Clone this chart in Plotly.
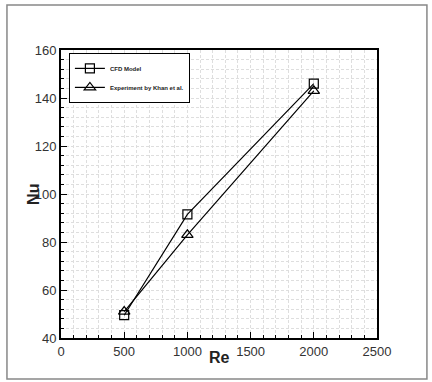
import plotly.graph_objects as go

# data
re_vals = [500, 1000, 2000]
nu_cfd = [49.5, 91.5, 146]
nu_exp = [51, 83, 143]

fig = go.Figure()

fig.add_trace(go.Scatter(
    x=re_vals, y=nu_cfd, name='<b>CFD Model</b>',
    mode='lines+markers',
    line=dict(color='black', width=1.2),
    marker=dict(symbol='square-open', size=9, color='black', line=dict(width=1.2))
))
fig.add_trace(go.Scatter(
    x=re_vals, y=nu_exp, name='<b>Experiment by Khan et al.</b>',
    mode='lines+markers',
    line=dict(color='black', width=1.2),
    marker=dict(symbol='triangle-up-open', size=10, color='black', line=dict(width=1.2))
))

grid = dict(showgrid=True, gridcolor='#dedede', griddash='3px,2px', gridwidth=1)

fig.update_xaxes(
    range=[0, 2500], dtick=500, tick0=0,
    showline=True, linecolor='black', linewidth=2, mirror=True,
    ticks='inside', ticklen=6, tickcolor='black',
    tickfont=dict(size=13, color='#333'),
    minor=dict(dtick=100, ticks='inside', ticklen=3, tickcolor='black', **grid),
    zeroline=False, **grid
)
fig.update_yaxes(
    range=[40, 160], dtick=20, tick0=40,
    showline=True, linecolor='black', linewidth=2, mirror=True,
    ticks='inside', ticklen=6, tickcolor='black',
    tickfont=dict(size=13, color='#333'),
    minor=dict(dtick=4, ticks='inside', ticklen=3, tickcolor='black', **grid),
    zeroline=False, **grid
)

# axis titles placed as annotations to match the original spacing
fig.add_annotation(text='<b>Re</b>', xref='paper', yref='paper', x=0.5, y=-0.069,
                   showarrow=False, font=dict(size=16, color='#222'), yanchor='middle')
fig.add_annotation(text='<b>Nu</b>', xref='paper', yref='paper', x=-0.089, y=0.5,
                   showarrow=False, font=dict(size=16, color='#222'), textangle=-90,
                   xanchor='center')

fig.update_layout(
    width=432, height=382,
    margin=dict(l=61, r=55, t=50, b=44),
    paper_bgcolor='white', plot_bgcolor='white',
    font=dict(family='Liberation Sans, Arial', color='#222'),
    showlegend=True,
    legend=dict(
        x=0.025, y=0.99, xanchor='left', yanchor='top',
        bgcolor='white', bordercolor='black', borderwidth=1,
        font=dict(size=6, color='#222', family='Liberation Sans, Arial'),
        tracegroupgap=0, itemwidth=30,
    ),
    shapes=[dict(
        type='rect', xref='paper', yref='paper',
        x0=-0.171, x1=1.158, y0=-0.142, y1=1.156,
        line=dict(color='#888', width=1.5), fillcolor='rgba(0,0,0,0)', layer='below'
    )],
)

fig.write_html('out.html', config={'displayModeBar': False},
               post_script="document.body.style.margin='0';")
